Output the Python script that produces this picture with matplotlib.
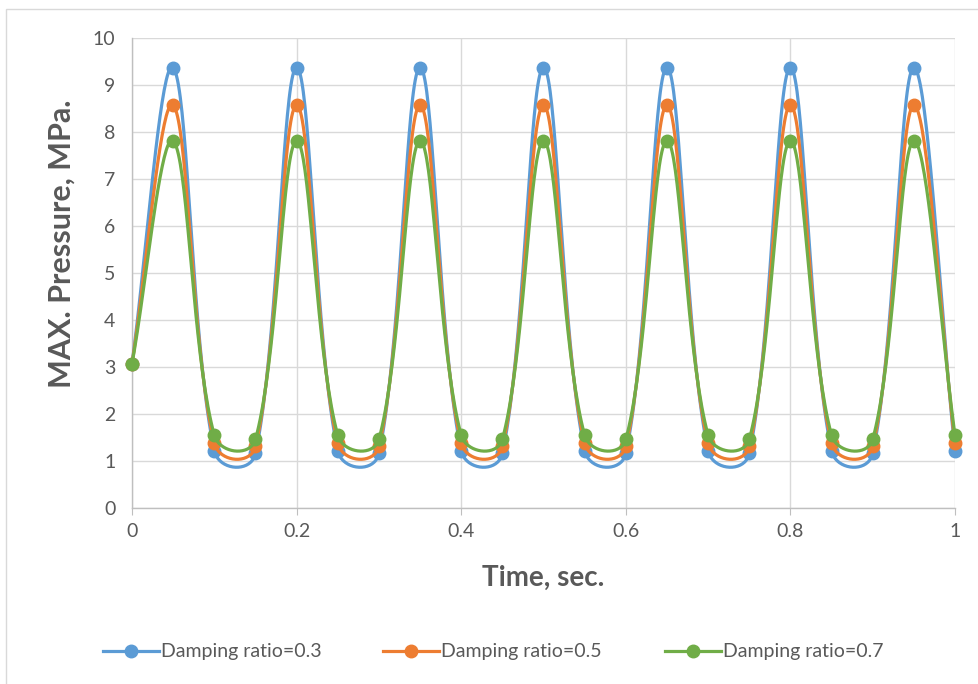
import numpy as np
import matplotlib
matplotlib.use("Agg")
import matplotlib.pyplot as plt
from matplotlib.lines import Line2D
from matplotlib.patches import Rectangle

time = [0.0, 0.05, 0.10, 0.15, 0.20, 0.25, 0.30, 0.35, 0.40, 0.45, 0.50,
        0.55, 0.60, 0.65, 0.70, 0.75, 0.80, 0.85, 0.90, 0.95, 1.00]
p_03 = [3.07, 9.37, 1.22, 1.16, 9.37, 1.22, 1.16, 9.37, 1.22, 1.16, 9.37,
        1.22, 1.16, 9.37, 1.22, 1.16, 9.37, 1.22, 1.16, 9.37, 1.22]
p_05 = [3.07, 8.57, 1.38, 1.31, 8.57, 1.38, 1.31, 8.57, 1.38, 1.31, 8.57,
        1.38, 1.31, 8.57, 1.38, 1.31, 8.57, 1.38, 1.31, 8.57, 1.38]
p_07 = [3.07, 7.81, 1.55, 1.46, 7.81, 1.55, 1.46, 7.81, 1.55, 1.46, 7.81,
        1.55, 1.46, 7.81, 1.55, 1.46, 7.81, 1.55, 1.46, 7.81, 1.55]
labels = ["Damping ratio=0.3", "Damping ratio=0.5", "Damping ratio=0.7"]
colors = ["#5B9BD5", "#ED7D31", "#70AD47"]

x_ticks = [0, 0.2, 0.4, 0.6, 0.8, 1.0]
x_ticklabels = ["0", "0.2", "0.4", "0.6", "0.8", "1"]
y_ticks = list(range(0, 11))

plt.rcParams['font.family'] = ['Lato', 'DejaVu Sans']
text_color = "#595959"
grid_color = "#D9D9D9"

W, H, DPI = 979, 684, 100
fig = plt.figure(figsize=(W / DPI, H / DPI), dpi=DPI)
ax = fig.add_axes([132 / W, 1 - 508 / H, (955 - 132) / W, (508 - 38) / H])
ax.set_xlim(0, 1)
ax.set_ylim(0, 10)

# chart-area border
fig.patches.append(Rectangle((6 / W, -0.01), 1.02, 1 - 9 / H + 0.01,
                             transform=fig.transFigure, fill=False,
                             edgecolor=grid_color, linewidth=1.0, zorder=0))


def smooth_curve(ax, x, y, n=40, power=0.75):
    """Bezier smoothing in screen space with length-weighted control points."""
    pts = ax.transData.transform(np.column_stack([x, y]))
    out = []
    m = len(pts)
    for i in range(m - 1):
        p0 = pts[i - 1] if i > 0 else pts[i]
        p1 = pts[i]
        p2 = pts[i + 1]
        p3 = pts[i + 2] if i + 2 < m else pts[i + 1]
        d01 = np.linalg.norm(p1 - p0) ** power
        d12 = np.linalg.norm(p2 - p1) ** power
        d23 = np.linalg.norm(p3 - p2) ** power
        f1 = d12 / (d01 + d12) if d01 + d12 > 0 else 0.5
        f2 = d12 / (d12 + d23) if d12 + d23 > 0 else 0.5
        c1 = p1 + (p2 - p0) * f1 / 3.0
        c2 = p2 - (p3 - p1) * f2 / 3.0
        t = np.linspace(0, 1, n)[:, None]
        seg = ((1 - t) ** 3) * p1 + 3 * ((1 - t) ** 2) * t * c1 \
            + 3 * (1 - t) * t ** 2 * c2 + t ** 3 * p2
        out.append(seg if i == 0 else seg[1:])
    curve = np.vstack(out)
    data = ax.transData.inverted().transform(curve)
    return data[:, 0], data[:, 1]


series = [p_03, p_05, p_07]
handles = []
for k, (vals, col, lab) in enumerate(zip(series, colors, labels)):
    sx, sy = smooth_curve(ax, time, vals)
    ax.plot(sx, sy, color=col, linewidth=2.3, solid_capstyle='round',
            zorder=3 + k, clip_on=False)
    ax.plot(time, vals, linestyle='none', marker='o', markersize=9,
            color=col, zorder=3 + k, clip_on=False)
    handles.append(Line2D([0], [0], color=col, linewidth=2.3, marker='o',
                          markersize=9, label=lab))

ax.set_xticks(x_ticks)
ax.set_xticklabels(x_ticklabels)
ax.set_yticks(y_ticks)
ax.grid(True, color=grid_color, linewidth=1.0, zorder=0)
ax.set_axisbelow(True)
for s in ['top', 'right']:
    ax.spines[s].set_visible(False)
for s in ['left', 'bottom']:
    ax.spines[s].set_color("#BFBFBF")
    ax.spines[s].set_linewidth(1.0)
ax.tick_params(axis='x', direction='out', length=5, color="#BFBFBF",
               labelsize=14, labelcolor=text_color, pad=6)
ax.tick_params(axis='y', length=0, labelsize=14, labelcolor=text_color, pad=12)

ax.set_xlabel("Time, sec.", fontsize=20, fontweight='bold', color=text_color,
              labelpad=18)
ax.set_ylabel("MAX. Pressure, MPa.", fontsize=22, fontweight='bold',
              color=text_color)
ax.yaxis.set_label_coords(-0.068, 0.562)

# legend entries laid out in one row below the axes
legend_x = [103, 383, 665]
for h, xs in zip(handles, legend_x):
    leg = fig.legend(handles=[h], loc='center left',
                     bbox_to_anchor=(xs / W, 1 - 652 / H), frameon=False,
                     fontsize=14, labelcolor=text_color, borderpad=0,
                     borderaxespad=0, handlelength=2.9, handletextpad=0.1)

fig.savefig("out.png", dpi=DPI)
